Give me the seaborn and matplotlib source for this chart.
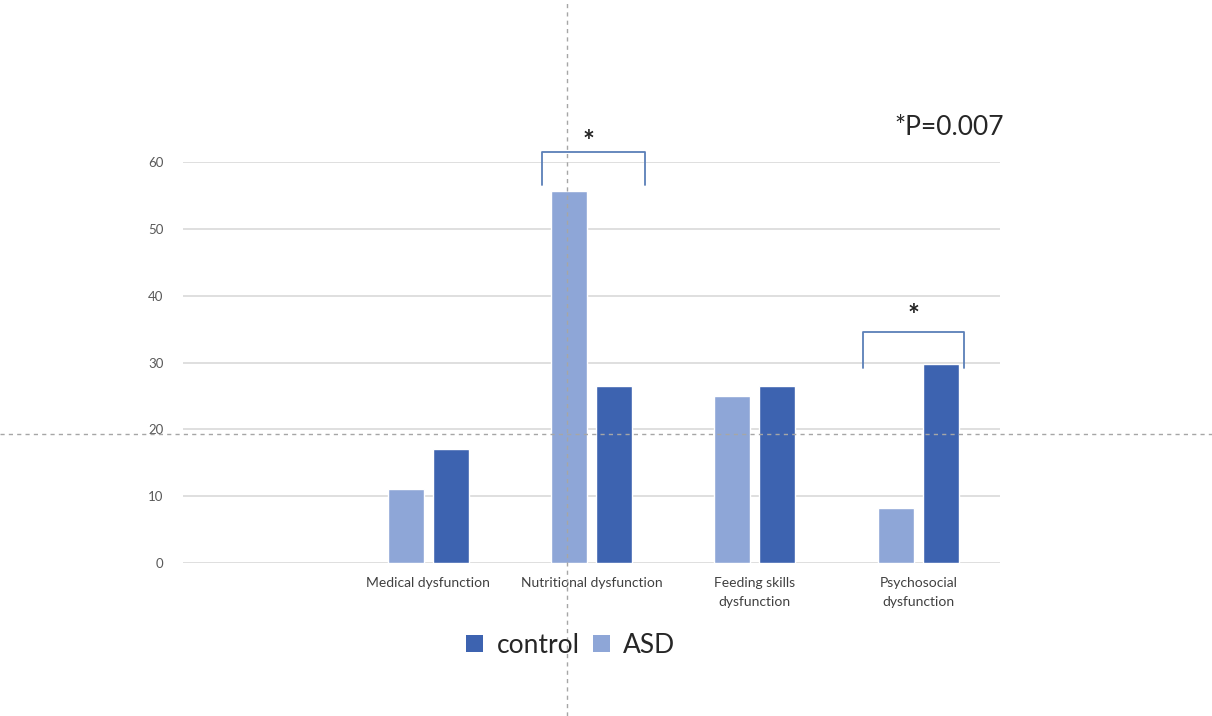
import matplotlib
matplotlib.use("Agg")
import matplotlib.pyplot as plt
from matplotlib.lines import Line2D
from matplotlib.patches import Patch
import numpy as np
import pandas as pd
import seaborn as sns

# Feeding dysfunction domains (first slot left empty on the axis)
categories = ["", "Medical dysfunction", "Nutritional dysfunction",
              "Feeding skills\ndysfunction", "Psychosocial\ndysfunction"]
domains = categories[1:]
asd_values = [11, 55.6, 25, 8.3]
control_values = [17, 26.5, 26.5, 29.8]
groups = ["ASD", "control"]
y_ticks = [0, 10, 20, 30, 40, 50, 60]

df = pd.DataFrame({
    "domain": domains * 2,
    "group": ["ASD"] * len(domains) + ["control"] * len(domains),
    "value": asd_values + control_values,
})

sns.set_theme(style="white")
plt.rcParams["font.family"] = ["Lato", "DejaVu Sans"]

colors = {"ASD": "#8ea6d7", "control": "#3d63b0"}

fig = plt.figure(figsize=(12.12, 7.16), dpi=100)
ax = fig.add_axes([0.151, 0.2137, 0.674, 0.56])

sns.barplot(data=df, x="domain", y="value", hue="group", order=categories,
            hue_order=groups, palette=colors, width=0.55, gap=0.2,
            saturation=1, legend=False, ax=ax)

ax.set_ylim(0, 60)
ax.set_xlim(-0.5, len(categories) - 0.5)
ax.set_yticks(y_ticks)
ax.yaxis.grid(True, color="#d9d9d9", linewidth=1.2)
ax.set_axisbelow(True)
for s in ax.spines.values():
    s.set_visible(False)
ax.set_xlabel("")
ax.set_ylabel("")
ax.tick_params(axis="y", length=0, pad=14, labelsize=9.5, labelcolor="#595959")
ax.tick_params(axis="x", length=0, pad=10, labelsize=10, labelcolor="#404040")
for lbl in ax.get_xticklabels():
    lbl.set_linespacing(1.75)

# Significance brackets
bracket_color = "#5b7fb8"
def bracket(x0, x1, y_top, y_end):
    ax.plot([x0, x0, x1, x1], [y_end, y_top, y_top, y_end], color=bracket_color,
            linewidth=1.3, clip_on=False, solid_joinstyle="round")

bracket(1.70, 2.33, 61.5, 56.6)
ax.text(1.98, 63.0, "*", ha="center", va="center", fontsize=20,
        fontweight="bold", color="#222222", clip_on=False)
bracket(3.66, 4.28, 34.6, 29.2)
ax.text(3.97, 36.9, "*", ha="center", va="center", fontsize=20,
        fontweight="bold", color="#222222", clip_on=False)

fig.text(0.828, 0.822, "*P=0.007", ha="right", va="center", fontsize=19,
         color="#262626")

# Legend
handles = [Patch(facecolor=colors["control"], edgecolor="none", label="control"),
           Patch(facecolor=colors["ASD"], edgecolor="none", label="ASD")]
fig.legend(handles=handles, loc="center", bbox_to_anchor=(0.471, 0.099), ncol=2,
           frameon=False, fontsize=19, handlelength=0.65, handleheight=0.65,
           handletextpad=0.5, columnspacing=0.5, labelcolor="#262626")

# Dashed guide lines across the figure
guide = dict(color="#a6a6a6", linewidth=1.0, linestyle=(0, (3, 3)))
fig.add_artist(Line2D([0.468, 0.468], [0, 1], transform=fig.transFigure, **guide))
fig.add_artist(Line2D([0, 1], [0.394, 0.394], transform=fig.transFigure, **guide))

fig.savefig("out.png", dpi=100, facecolor="white")
